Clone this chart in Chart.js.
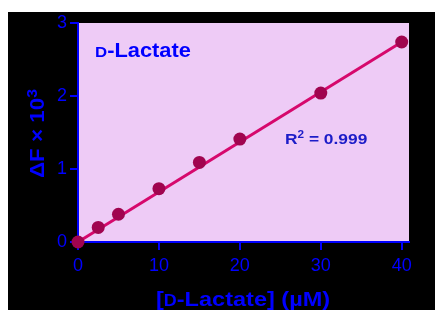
<!DOCTYPE html>
<html>
<head>
<meta charset="utf-8">
<script src="https://cdn.jsdelivr.net/npm/chart.js@4/dist/chart.umd.min.js"></script>
<style>
  html, body { margin: 0; padding: 0; background: #fff; }
  #wrap { width: 435px; height: 310px; }
</style>
</head>
<body>
<div id="wrap"><canvas id="myChart" width="435" height="310"></canvas></div>
<script>
// standards (uM) and measured signal (dF x 10^3)
const concentrations = [0, 2.5, 5, 10, 15, 20, 30, 40];
const signal = [0, 0.2, 0.38, 0.73, 1.09, 1.41, 2.04, 2.74];
// linear fit end points
const fitX = [0, 40];
const fitY = [0, 2.74];
const xTicks = [0, 10, 20, 30, 40];
const yTicks = [0, 1, 2, 3];

const BLUE = '#0000ff';
const SX = 1.12; // bold labels look a bit wide in the original

// draws a run of [text, size, dy] pieces starting at x, stretched horizontally
function drawRuns(ctx, runs, x, y, color) {
    ctx.save();
    ctx.translate(x, y);
    ctx.scale(SX, 1);
    ctx.fillStyle = color;
    ctx.textBaseline = 'alphabetic';
    ctx.textAlign = 'left';
    let cx = 0;
    runs.forEach((r) => {
        ctx.font = 'bold ' + r[1] + 'px "Liberation Sans", Arial, sans-serif';
        ctx.fillText(r[0], cx, r[2] || 0);
        cx += ctx.measureText(r[0]).width;
    });
    ctx.restore();
}

const backdrop = {
    id: 'backdrop',
    beforeDraw(chart) {
        const ctx = chart.ctx;
        const a = chart.chartArea;
        ctx.save();
        ctx.fillStyle = '#ffffff';
        ctx.fillRect(0, 0, chart.width, chart.height);
        ctx.fillStyle = '#000000';
        ctx.fillRect(8, 12, chart.width - 8, chart.height - 12);
        ctx.fillStyle = '#eecbf6';
        ctx.fillRect(a.left, a.top, a.right - a.left, a.bottom - a.top);
        ctx.restore();
    },
    afterDraw(chart) {
        const ctx = chart.ctx;
        // panel title
        drawRuns(ctx, [['D', 15], ['-Lactate', 19.5]], 95, 57, BLUE);
        // R squared
        drawRuns(ctx, [['R', 15.5], ['2', 10.5, -6], [' = 0.999', 15.5]], 285, 144, '#1c1cc8');
        // x axis title
        drawRuns(ctx, [['[', 21], ['D', 16], ['-Lactate] (\u00b5M)', 21]], 156, 306, BLUE);
        // y axis title, rotated
        ctx.save();
        ctx.translate(43.5, 178);
        ctx.rotate(-Math.PI / 2);
        drawRuns(ctx, [['\u0394F \u00d7 10', 20], ['3', 14, -7]], 0, 0, BLUE);
        ctx.restore();
    }
};

const ctx = document.getElementById('myChart').getContext('2d');
const chart = new Chart(ctx, {
    type: 'scatter',
    data: {
        datasets: [{
            label: 'fit',
            data: fitX.map((x, i) => ({ x: x, y: fitY[i] })),
            showLine: true,
            borderColor: '#d6086c',
            borderWidth: 3,
            pointRadius: 0,
            clip: false,
            order: 2
        }, {
            label: 'D-Lactate',
            data: concentrations.map((x, i) => ({ x: x, y: signal[i] })),
            showLine: false,
            backgroundColor: '#a0044f',
            borderColor: '#a0044f',
            borderWidth: 0,
            pointRadius: 6.5,
            pointHoverRadius: 6.5,
            clip: false,
            order: 1
        }]
    },
    options: {
        responsive: false,
        animation: false,
        events: [],
        layout: { padding: { left: 8, right: 26, top: 23, bottom: 0 } },
        plugins: { legend: { display: false }, tooltip: { enabled: false } },
        scales: {
            x: {
                type: 'linear',
                min: 0,
                max: 40.9,
                z: 1,
                afterFit: (s) => { s.height = 68; },
                afterBuildTicks: (s) => { s.ticks = xTicks.map((v) => ({ value: v })); },
                border: { display: true, color: BLUE, width: 2 },
                grid: { drawOnChartArea: false, drawTicks: true, tickLength: 8, color: BLUE, lineWidth: 2 },
                ticks: {
                    color: BLUE,
                    padding: 5,
                    font: { family: '"Liberation Sans", Arial, sans-serif', size: 18 }
                }
            },
            y: {
                type: 'linear',
                min: 0,
                max: 3,
                z: 1,
                afterFit: (s) => { s.width = 70; },
                afterBuildTicks: (s) => { s.ticks = yTicks.map((v) => ({ value: v })); },
                border: { display: true, color: BLUE, width: 2 },
                grid: { drawOnChartArea: false, drawTicks: true, tickLength: 8, color: BLUE, lineWidth: 2 },
                ticks: {
                    color: BLUE,
                    padding: 3,
                    font: { family: '"Liberation Sans", Arial, sans-serif', size: 18 }
                }
            }
        }
    },
    plugins: [backdrop]
});
</script>
</body>
</html>
